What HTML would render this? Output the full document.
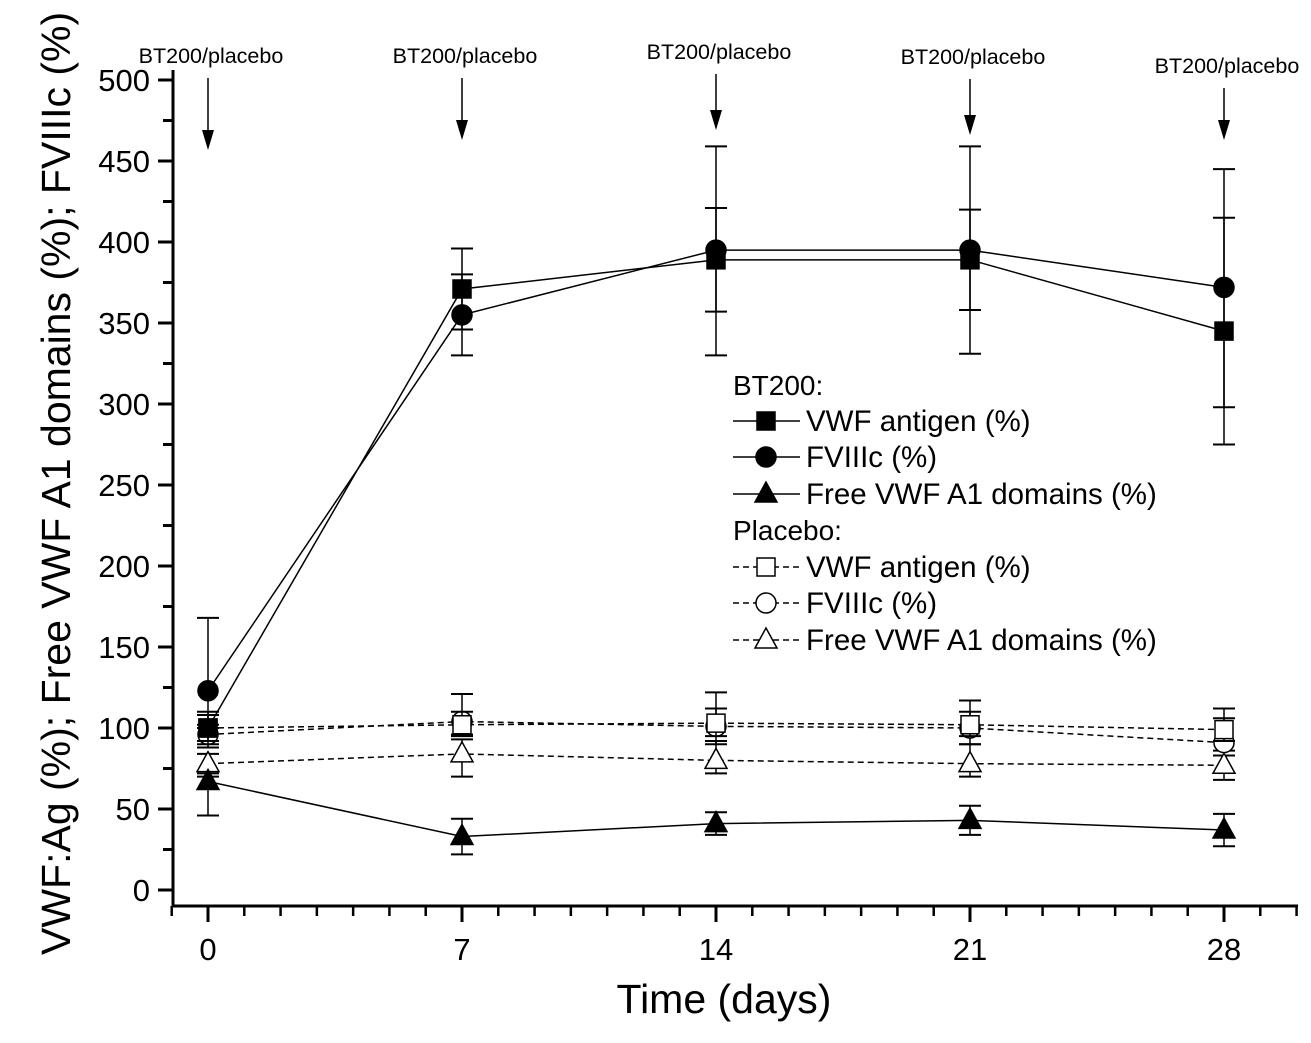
<!DOCTYPE html>
<html><head><meta charset="utf-8"><style>
body{margin:0;background:#fff;}
svg text{font-family:"Liberation Sans",Arial,sans-serif;fill:#000;}
</style></head><body>
<svg id="chart" width="1311" height="1038" xmlns="http://www.w3.org/2000/svg">
<g id="axes"></g>
<g id="series"></g>
<g id="legend"></g>
<g id="annot"></g>
<text x="724" y="1013" font-size="41" text-anchor="middle">Time (days)</text>
<text transform="translate(70,955) rotate(-90)" font-size="41" text-anchor="start">VWF:Ag (%); Free VWF A1 domains (%); FVIIIc (%)</text>
</svg>
<script>
const days=[0,7,14,21,28];
const yTicks=[0,50,100,150,200,250,300,350,400,450,500];
const xTicks=[0,7,14,21,28];
const vwfBT=[100,371,389,389,345];
const vwfBTHi=[110,396,421,420,415];
const vwfBTLo=[90,346,357,358,275];
const fviiiBT=[123,355,395,395,372];
const fviiiBTHi=[168,380,459,459,445];
const fviiiBTLo=[100,330,330,331,298];
const a1BT=[67,33,41,43,37];
const a1BTHi=[70,44,48,52,47];
const a1BTLo=[46,22,34,34,27];
const vwfPl=[100,102,103,102,99];
const vwfPlHi=[108,110,112,110,106];
const vwfPlLo=[92,95,95,95,92];
const fviiiPl=[96,104,101,100,91];
const fviiiPlHi=[102,121,122,117,112];
const fviiiPlLo=[88,96,90,90,86];
const a1Pl=[78,84,80,78,77];
const a1Pl_Hi=[84,93,92,90,83];
const a1Pl_Lo=[72,70,72,70,68];
const NS="http://www.w3.org/2000/svg";
const X=d=>208+d*(1224-208)/28;
const Y=v=>890-v*(890-80)/500;
function mk(p,t,a){const e=document.createElementNS(NS,t);for(const k in a)e.setAttribute(k,a[k]);p.appendChild(e);return e;}
const ax=document.getElementById('axes');
let e=mk(ax,'line',{x1:173,y1:906,x2:1298,y2:906,stroke:'#000','stroke-width':3});

e=mk(ax,'line',{x1:173,y1:70,x2:173,y2:907,stroke:'#000','stroke-width':3});

for(let d=-1;d<=30;d++){const maj=d%7===0;mk(ax,'line',{x1:X(d),y1:906,x2:X(d),y2:maj?922:916,stroke:'#000','stroke-width':maj?3:2.5});}
xTicks.forEach(d=>{const t=mk(ax,'text',{x:X(d),y:960,'font-size':31,'text-anchor':'middle'});t.textContent=d;
});
for(let v=0;v<=500;v+=25){mk(ax,'line',{x1:v%50===0?158:163,y1:Y(v),x2:173,y2:Y(v),stroke:'#000','stroke-width':3});}
yTicks.forEach(v=>{const t=mk(ax,'text',{x:150,y:Y(v)+11,'font-size':31,'text-anchor':'end'});t.textContent=v;
});
const sg=document.getElementById('series');
function marker(p,shape,fill,x,y,s){
 if(shape==='sq')return mk(p,'rect',{x:x-s,y:y-s,width:2*s,height:2*s,fill,stroke:'#000','stroke-width':1.5});
 if(shape==='ci')return mk(p,'circle',{cx:x,cy:y,r:s+1,fill,stroke:'#000','stroke-width':1.5});
 return mk(p,'polygon',{points:`${x},${y-s-3} ${x-s-2},${y+s-1} ${x+s+2},${y+s-1}`,fill,stroke:'#000','stroke-width':1.5});}
function series(name,vals,hi,lo,shape,fill,dash){
 const g=mk(sg,'g',{});
 vals.forEach((v,i)=>{const x=X(days[i]);mk(g,'line',{x1:x,y1:Y(hi[i]),x2:x,y2:Y(lo[i]),stroke:'#000','stroke-width':1.5});
  [hi[i],lo[i]].forEach(w=>mk(g,'line',{x1:x-11,y1:Y(w),x2:x+11,y2:Y(w),stroke:'#000','stroke-width':2}));});
 mk(g,'polyline',{points:vals.map((v,i)=>X(days[i])+','+Y(v)).join(' '),fill:'none',stroke:'#000','stroke-width':1.5,'stroke-dasharray':dash?'6,4':'none'});
 vals.forEach((v,i)=>marker(g,shape,fill,X(days[i]),Y(v),9));}
series('placebo-a1-series',a1Pl,a1Pl_Hi,a1Pl_Lo,'tr','#fff',true);
series('placebo-fviiic-series',fviiiPl,fviiiPlHi,fviiiPlLo,'ci','#fff',true);
series('placebo-vwf-series',vwfPl,vwfPlHi,vwfPlLo,'sq','#fff',true);
series('bt200-a1-series',a1BT,a1BTHi,a1BTLo,'tr','#000',false);
series('bt200-vwf-series',vwfBT,vwfBTHi,vwfBTLo,'sq','#000',false);
series('bt200-fviiic-series',fviiiBT,fviiiBTHi,fviiiBTLo,'ci','#000',false);
const lg=document.getElementById('legend');
function head(t,y){const e=mk(lg,'text',{x:733,y:y+10,'font-size':28});e.textContent=t;}
function ent(t,y,shape,fill,dash){const g=mk(lg,'g',{});
 mk(g,'line',{x1:733,y1:y,x2:800,y2:y,stroke:'#000','stroke-width':1.5,'stroke-dasharray':dash?'6,4':'none'});
 marker(g,shape,fill,766,y,9);const e=mk(g,'text',{x:806,y:y+10,'font-size':29.5});e.textContent=t;}
head('BT200:',385);ent('VWF antigen (%)',421,'sq','#000');ent('FVIIIc (%)',457,'ci','#000');ent('Free VWF A1 domains (%)',494,'tr','#000');
head('Placebo:',530);ent('VWF antigen (%)',567,'sq','#fff',1);ent('FVIIIc (%)',603,'ci','#fff',1);ent('Free VWF A1 domains (%)',640,'tr','#fff',1);
const an=document.getElementById('annot');
const annY=[56,56,52,57,66];const arrEnd=[150,140,130,135,140];
days.forEach((d,i)=>{const g=mk(an,'g',{});
 const x=X(d);const t=mk(g,'text',{x:x+3,y:annY[i]+7,'font-size':21.5,'text-anchor':'middle'});t.textContent='BT200/placebo';
 mk(g,'line',{x1:x,y1:annY[i]+22,x2:x,y2:arrEnd[i]-10,stroke:'#000','stroke-width':1.5});
 mk(g,'polygon',{points:`${x-6},${arrEnd[i]-20} ${x+6},${arrEnd[i]-20} ${x},${arrEnd[i]}`,fill:'#000'});});
</script>
</body></html>
